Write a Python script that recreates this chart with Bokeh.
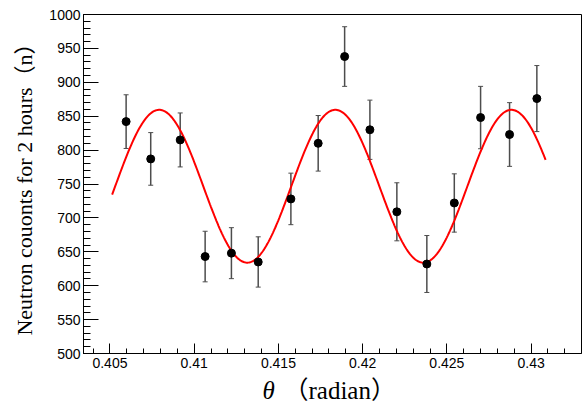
import numpy as np
from bokeh.plotting import figure
from bokeh.layouts import column
from bokeh.models import (ColumnDataSource, Whisker, TeeHead, Label, Title, FixedTicker,
                          PrintfTickFormatter, Range1d)
from bokeh.embed import file_html
from bokeh.resources import INLINE

# ---- data ----
theta = [0.40596, 0.40742, 0.40917, 0.41065, 0.41221, 0.41380, 0.41574, 0.41736,
         0.41893, 0.42043, 0.42203, 0.42381, 0.42544, 0.42700, 0.42872, 0.43034]
counts = [842, 787, 815, 643, 648, 635, 728, 810, 938, 830, 709, 632, 722, 848, 823, 876]
errors = [39.6, 38.8, 39.8, 37.3, 37.6, 37.1, 38.0, 41.0, 44.0, 43.7, 42.8, 42.0, 43.0, 46.0, 47.0, 48.7]

x_ticks = [0.405, 0.41, 0.415, 0.42, 0.425, 0.43]
x_tick_labels = ["0.405", "0.41", "0.415", "0.42", "0.425", "0.43"]
x_minor = [round(0.404 + 0.001 * i, 3) for i in range(29)]
y_ticks = [500, 550, 600, 650, 700, 750, 800, 850, 900, 950, 1000]
y_tick_labels = ["500", "550", "600", "650", "700", "750", "800", "850", "900", "950", "1000"]
y_minor = list(range(500, 1001, 10))

y_title = "Neutron couonts for 2 hours（n）"
x_title_symbol = "θ"
x_title_unit = "（radian）"

# fitted sinusoid parameters
fit_offset = 746.7
fit_amplitude = 112.7
fit_peak = 0.407925
fit_period = 0.010453
fit_start = 0.40513
fit_end = 0.43086

fit_x = np.linspace(fit_start, fit_end, 400)
fit_y = fit_offset + fit_amplitude * np.cos(2 * np.pi * (fit_x - fit_peak) / fit_period)

SERIF = "'Liberation Serif', 'Noto Sans CJK SC', serif"

p = figure(width=584, height=372,
           x_range=Range1d(0.40343, 0.43299), y_range=Range1d(500, 1000),
           output_backend="svg", toolbar_location=None,
           min_border_left=83, min_border_right=3, min_border_top=14, min_border_bottom=19)
p.grid.visible = False
p.outline_line_color = "black"
p.outline_line_width = 1
p.background_fill_color = "white"
p.border_fill_color = "white"

xa = p.xaxis[0]
ya = p.yaxis[0]
xa.ticker = FixedTicker(ticks=x_ticks, minor_ticks=x_minor)
ya.ticker = FixedTicker(ticks=y_ticks, minor_ticks=y_minor)
xa.formatter = PrintfTickFormatter(format="%g")
xa.major_label_overrides = dict(zip(x_ticks, x_tick_labels))
ya.major_label_overrides = dict(zip(y_ticks, y_tick_labels))

for ax in (xa, ya):
    ax.axis_line_color = "black"
    ax.axis_line_width = 1
    ax.major_tick_line_color = "black"
    ax.minor_tick_line_color = "black"
    ax.major_tick_out = 0
    ax.minor_tick_out = 0
    ax.major_label_text_font = "Liberation Sans"
    ax.major_label_text_font_size = "14px"
    ax.major_label_text_color = "black"
xa.major_tick_in = 10
xa.minor_tick_in = 5
ya.major_tick_in = 15
ya.minor_tick_in = 7
xa.major_label_standoff = 4
ya.major_label_standoff = 3

src = ColumnDataSource(dict(
    x=theta, y=counts,
    lower=[c - e for c, e in zip(counts, errors)],
    upper=[c + e for c, e in zip(counts, errors)],
))

err_col = "#4d4d4d"
w = Whisker(base="x", lower="lower", upper="upper", source=src,
            line_color=err_col, line_width=1.5,
            upper_head=TeeHead(size=5, line_color=err_col, line_width=1),
            lower_head=TeeHead(size=5, line_color=err_col, line_width=1))
p.add_layout(w)

p.line(fit_x, fit_y, line_color="red", line_width=2)
p.scatter("x", "y", source=src, size=8, color="black")

yt = Title(text=y_title, align="center", offset=-30, vertical_align="top", standoff=15,
           text_font=SERIF, text_font_size="22px",
           text_font_style="normal", text_color="black")
p.add_layout(yt, "left")

# caption strip for the x-axis title
cap = figure(width=584, height=31, x_range=Range1d(0, 584), y_range=Range1d(0, 31),
             output_backend="svg", toolbar_location=None,
             x_axis_type=None, y_axis_type=None,
             min_border_left=0, min_border_right=0, min_border_top=0, min_border_bottom=0)
cap.grid.visible = False
cap.outline_line_color = None
cap.background_fill_color = "white"
cap.border_fill_color = "white"

lab1 = Label(x=179, y=13, x_units="screen", y_units="screen", text=x_title_symbol,
             text_align="left", text_baseline="alphabetic",
             text_font=SERIF, text_font_style="italic",
             text_font_size="25px", text_color="black")
lab2 = Label(x=200, y=13, x_units="screen", y_units="screen", text=x_title_unit,
             text_align="left", text_baseline="alphabetic",
             text_font=SERIF, text_font_size="25px", text_color="black")
cap.add_layout(lab1)
cap.add_layout(lab2)

layout = column(p, cap, spacing=0)
open("out.html", "w").write(file_html(layout, INLINE))
